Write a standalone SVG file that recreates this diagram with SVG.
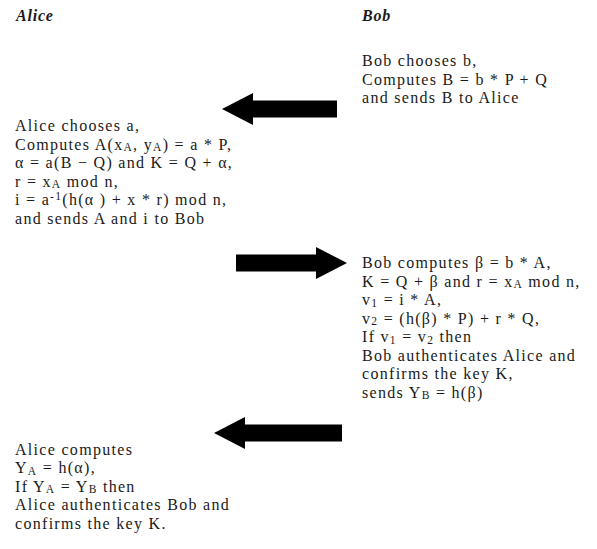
<svg xmlns="http://www.w3.org/2000/svg" width="597" height="549" viewBox="0 0 597 549">
<style>
  text { font-family: "Liberation Serif", "DejaVu Serif", serif; font-size: 16px; fill: #1a1a1a; letter-spacing: 1.3px; }
  .title { font-weight: bold; font-style: italic; letter-spacing: 0.8px; }
  .sub { font-size: 11.5px; }
  .arrow { fill: #000; stroke: none; }
</style>
<rect width="597" height="549" fill="#fff"/>
<g id="alice-title"><text class="title" x="16" y="21">Alice</text></g>
<g id="bob-title"><text class="title" x="362" y="21">Bob</text></g>

<g id="bob-step1">
  <text x="362" y="66">Bob chooses b,</text>
  <text x="362" y="84.5">Computes B = b * P + Q</text>
  <text x="362" y="103">and sends B to Alice</text>
</g>

<g id="alice-step1">
  <text x="15" y="131">Alice chooses a,</text>
  <text x="15" y="149.5">Computes A(x<tspan class="sub" dy="1.5">A</tspan><tspan dy="-1.5">, y</tspan><tspan class="sub" dy="1.5">A</tspan><tspan dy="-1.5">) = a * P,</tspan></text>
  <text x="15" y="168">α = a(B − Q) and K = Q + α,</text>
  <text x="15" y="186.5">r = x<tspan class="sub" dy="1.5">A</tspan><tspan dy="-1.5"> mod n,</tspan></text>
  <text x="15" y="205">i = a<tspan class="sub" dy="-5">-1</tspan><tspan dy="5">(h(α ) + x * r) mod n,</tspan></text>
  <text x="15" y="223.5">and sends A and i to Bob</text>
</g>

<g id="bob-step2">
  <text x="362" y="268">Bob computes β = b * A,</text>
  <text x="362" y="286.5">K = Q + β and r = x<tspan class="sub" dy="1.5">A</tspan><tspan dy="-1.5"> mod n,</tspan></text>
  <text x="362" y="305">v<tspan class="sub" dy="1.5">1</tspan><tspan dy="-1.5"> = i * A,</tspan></text>
  <text x="362" y="323.5">v<tspan class="sub" dy="1.5">2</tspan><tspan dy="-1.5"> = (h(β) * P) + r * Q,</tspan></text>
  <text x="362" y="342">If v<tspan class="sub" dy="1.5">1</tspan><tspan dy="-1.5"> = v</tspan><tspan class="sub" dy="1.5">2</tspan><tspan dy="-1.5"> then</tspan></text>
  <text x="362" y="360.5">Bob authenticates Alice and</text>
  <text x="362" y="379">confirms the key K,</text>
  <text x="362" y="397.5">sends Y<tspan class="sub" dy="1.5">B</tspan><tspan dy="-1.5"> = h(β)</tspan></text>
</g>

<g id="alice-step2">
  <text x="15" y="454.5">Alice computes</text>
  <text x="15" y="473">Y<tspan class="sub" dy="1.5">A</tspan><tspan dy="-1.5"> = h(α),</tspan></text>
  <text x="15" y="491.5">If Y<tspan class="sub" dy="1.5">A</tspan><tspan dy="-1.5"> = Y</tspan><tspan class="sub" dy="1.5">B</tspan><tspan dy="-1.5"> then</tspan></text>
  <text x="15" y="510">Alice authenticates Bob and</text>
  <text x="15" y="528.5">confirms the key K.</text>
</g>

<g id="connectors">
  <path class="arrow" d="M337,100.5 H253 V93 L222,109 L253,125 V117.5 H337 Z"/>
  <path class="arrow" d="M236,254.5 H316 V247 L347,263 L316,279 V271.5 H236 Z"/>
  <path class="arrow" d="M342,424.5 H245 V417 L214,433 L245,449 V441.5 H342 Z"/>
</g>
</svg>
